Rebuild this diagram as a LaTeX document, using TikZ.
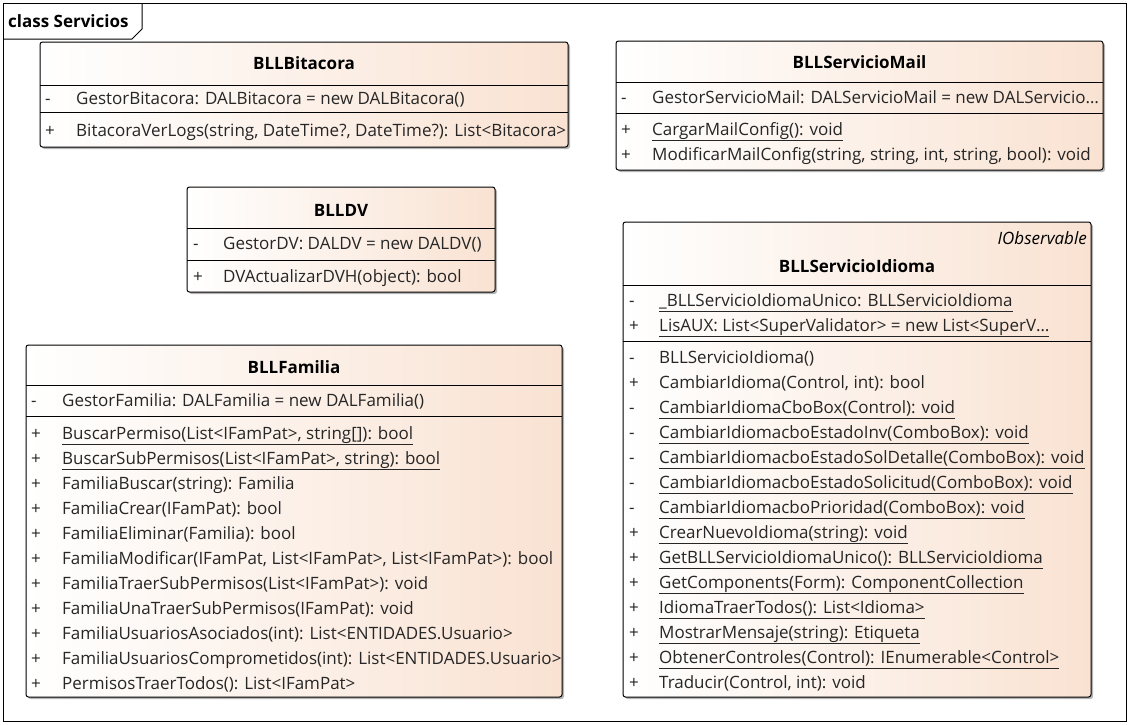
\documentclass[tikz,border=0pt]{standalone}
\usepackage{fontspec}
\setmainfont{Open Sans}
\usetikzlibrary{shadows}
\definecolor{peach}{RGB}{249,226,210}
\definecolor{shadowgray}{RGB}{150,150,150}
\newcommand\myul[1]{\underline{\vphantom{gy()}#1}}
\tikzset{
  cls/.style={draw=black, line width=1pt, rounded corners=2.5pt, left color=white, right color=peach,
    anchor=north west, inner sep=0pt, outer sep=0pt,
    drop shadow={shadow xshift=2pt, shadow yshift=-2pt, fill=shadowgray, opacity=0.7}},
  txt/.style={anchor=base west, inner sep=0pt, font=\fontsize{17}{20}\selectfont, text=black!85},
  ttl/.style={anchor=base, inner sep=0pt, font=\fontsize{17}{20}\selectfont\bfseries},
  ster/.style={anchor=base east, inner sep=0pt, font=\fontsize{17}{20}\selectfont\itshape},
  sep/.style={line width=1pt, draw=black}
}
\begin{document}
\begin{tikzpicture}[x=1pt,y=-1pt]
\useasboundingbox (0,0) rectangle (1129,724);
% frame
\node[draw=black, line width=1pt, anchor=north west, minimum width=1123pt, minimum height=718pt, inner sep=0pt] (frame) at (3,3) {};
\coordinate (tabA) at (3,39);
\coordinate (tabB) at (132,39);
\coordinate (tabC) at (142,29);
\coordinate (tabD) at (142,3);
\draw[line width=1pt] (tabA) -- (tabB) -- (tabC) -- (tabD);
\node[anchor=base west, inner sep=0pt, font=\fontsize{17}{20}\selectfont\bfseries] (frametitle) at (8,27) {class Servicios};

% ---------- BLLBitacora ----------
\node[cls, minimum width=528pt, minimum height=105pt] (bit) at (40,42) {};
\node[ttl] (bitT) at (304,69) {BLLBitacora};
\draw[sep] (bit.west |- 0,85) -- (bit.east |- 0,85);
\node[txt] (bitAv) at (45,104) {-};
\node[txt] (bitA) at (76,104) {GestorBitacora: DALBitacora = new DALBitacora()};
\draw[sep] (bit.west |- 0,112) -- (bit.east |- 0,112);
\node[txt] (bitMv) at (45,136) {+};
\node[txt] (bitM) at (76,136) {BitacoraVerLogs(string, DateTime?, DateTime?): List<Bitacora>};

% ---------- BLLServicioMail ----------
\node[cls, minimum width=487pt, minimum height=129pt] (mail) at (616,41) {};
\node[ttl] (mailT) at (859.5,68) {BLLServicioMail};
\draw[sep] (mail.west |- 0,82) -- (mail.east |- 0,82);
\node[txt] (mailAv) at (621,103) {-};
\node[txt] (mailA) at (652,103) {GestorServicioMail: DALServicioMail = new DALServicio…};
\draw[sep] (mail.west |- 0,113) -- (mail.east |- 0,113);
\node[txt] (mailM1v) at (621,135) {+};
\node[txt] (mailM1) at (652,135) {\myul{CargarMailConfig(): void}};
\node[txt] (mailM2v) at (621,160) {+};
\node[txt] (mailM2) at (652,160) {ModificarMailConfig(string, string, int, string, bool): void};

% ---------- BLLDV ----------
\node[cls, minimum width=308pt, minimum height=105pt] (dv) at (187,187) {};
\node[ttl] (dvT) at (341,216) {BLLDV};
\draw[sep] (dv.west |- 0,228) -- (dv.east |- 0,228);
\node[txt] (dvAv) at (193,249) {-};
\node[txt] (dvA) at (223,249) {GestorDV: DALDV = new DALDV()};
\draw[sep] (dv.west |- 0,260) -- (dv.east |- 0,260);
\node[txt] (dvMv) at (193,282) {+};
\node[txt] (dvM) at (223,282) {DVActualizarDVH(object): bool};

% ---------- BLLServicioIdioma ----------
\node[cls, minimum width=468pt, minimum height=475pt] (idi) at (623,222) {};
\node[ster] (idiS) at (1087,244) {IObservable};
\node[ttl] (idiT) at (857,272) {BLLServicioIdioma};
\draw[sep] (idi.west |- 0,285) -- (idi.east |- 0,285);
\node[txt] (idiA1v) at (629,306) {-};
\node[txt] (idiA1) at (659,306) {\myul{\_BLLServicioIdiomaUnico: BLLServicioIdioma}};
\node[txt] (idiA2v) at (629,331) {+};
\node[txt] (idiA2) at (659,331) {\myul{LisAUX: List<SuperValidator> = new List<SuperV…}};
\draw[sep] (idi.west |- 0,341) -- (idi.east |- 0,341);
\foreach \v/\t [count=\i] in {
  -/{BLLServicioIdioma()},
  +/{CambiarIdioma(Control, int): bool},
  -/{\myul{CambiarIdiomaCboBox(Control): void}},
  -/{\myul{CambiarIdiomacboEstadoInv(ComboBox): void}},
  -/{\myul{CambiarIdiomacboEstadoSolDetalle(ComboBox): void}},
  -/{\myul{CambiarIdiomacboEstadoSolicitud(ComboBox): void}},
  -/{\myul{CambiarIdiomacboPrioridad(ComboBox): void}},
  +/{\myul{CrearNuevoIdioma(string): void}},
  +/{\myul{GetBLLServicioIdiomaUnico(): BLLServicioIdioma}},
  +/{\myul{GetComponents(Form): ComponentCollection}},
  +/{\myul{IdiomaTraerTodos(): List<Idioma>}},
  +/{\myul{MostrarMensaje(string): Etiqueta}},
  +/{\myul{ObtenerControles(Control): IEnumerable<Control>}},
  +/{Traducir(Control, int): void}} {
  \node[txt] (idiM\i v) at (629,{363+25*(\i-1)}) {\v};
  \node[txt] (idiM\i) at (659,{363+25*(\i-1)}) {\t};
}

% ---------- BLLFamilia ----------
\node[cls, minimum width=536pt, minimum height=352pt] (fam) at (26,345) {};
\node[ttl] (famT) at (294,373) {BLLFamilia};
\draw[sep] (fam.west |- 0,385) -- (fam.east |- 0,385);
\node[txt] (famAv) at (31,406) {-};
\node[txt] (famA) at (62,406) {GestorFamilia: DALFamilia = new DALFamilia()};
\draw[sep] (fam.west |- 0,416) -- (fam.east |- 0,416);
\foreach \t [count=\i] in {
  {\myul{BuscarPermiso(List<IFamPat>, string[]): bool}},
  {\myul{BuscarSubPermisos(List<IFamPat>, string): bool}},
  {FamiliaBuscar(string): Familia},
  {FamiliaCrear(IFamPat): bool},
  {FamiliaEliminar(Familia): bool},
  {FamiliaModificar(IFamPat, List<IFamPat>, List<IFamPat>): bool},
  {FamiliaTraerSubPermisos(List<IFamPat>): void},
  {FamiliaUnaTraerSubPermisos(IFamPat): void},
  {FamiliaUsuariosAsociados(int): List<ENTIDADES.Usuario>},
  {FamiliaUsuariosComprometidos(int): List<ENTIDADES.Usuario>},
  {PermisosTraerTodos(): List<IFamPat>}} {
  \node[txt] (famM\i v) at (31,{439+25*(\i-1)}) {+};
  \node[txt] (famM\i) at (62,{439+25*(\i-1)}) {\t};
}
\end{tikzpicture}
\end{document}
